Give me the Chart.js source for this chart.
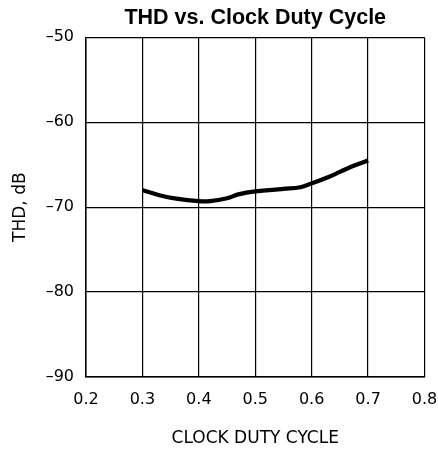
<!DOCTYPE html>
<html>
<head>
<meta charset="utf-8">
<title>THD vs. Clock Duty Cycle</title>
<script src="https://cdn.jsdelivr.net/npm/chart.js@4/dist/chart.umd.min.js"></script>
<style>
  html, body { margin: 0; padding: 0; background: #fff; }
  #wrap { width: 438px; height: 449px; }
</style>
</head>
<body>
<div id="wrap"><canvas id="thd-chart" width="438" height="449"></canvas></div>
<script>
// values
const dutyCycle = [0.30, 0.33, 0.36, 0.40, 0.42, 0.45, 0.47, 0.50, 0.55, 0.58, 0.60, 0.63, 0.65, 0.67, 0.70]
const thd = [-68.0, -68.6, -69.0, -69.3, -69.3, -68.95, -68.5, -68.15, -67.85, -67.65, -67.2, -66.45, -65.85, -65.25, -64.5]

const xTicks = [0.2, 0.3, 0.4, 0.5, 0.6, 0.7, 0.8]
const yTicks = [-90, -80, -70, -60, -50]

const tickFont = { family: "'DejaVu Sans', sans-serif", size: 16 }
const titleFont = { family: "'DejaVu Sans', sans-serif", size: 17 }

const points = dutyCycle.map((x, i) => ({ x: x, y: thd[i] }))

const chart = new Chart(document.getElementById("thd-chart"), {
  type: "line",
  data: {
    datasets: [{
      label: "THD",
      data: points,
      borderColor: "#000",
      borderWidth: 4.2,
      tension: 0.4,
      pointRadius: 0,
      fill: false
    }]
  },
  options: {
    responsive: false,
    animation: false,
    layout: { padding: { left: 0, right: 13.5, top: 0, bottom: 0 } },
    plugins: {
      legend: { display: false },
      tooltip: { enabled: false },
      title: {
        display: true,
        fullSize: false,
        text: "THD vs. Clock Duty Cycle",
        color: "#000",
        font: { family: "'Liberation Sans', Arial, sans-serif", size: 21.5, weight: "bold", lineHeight: 1.2 },
        padding: { top: 5.5, bottom: 6 }
      }
    },
    scales: {
      x: {
        type: "linear",
        min: xTicks[0],
        max: xTicks[xTicks.length - 1],
        afterBuildTicks: (scale) => { scale.ticks = xTicks.map(v => ({ value: v })) },
        afterFit: (scale) => {
          scale.height = 72
          scale.paddingLeft = 0
          scale.paddingRight = 0
        },
        grid: { color: "#000", lineWidth: 1.2, drawTicks: false },
        border: { color: "#000", width: 1.5 },
        ticks: {
          color: "#000",
          font: tickFont,
          padding: 13,
          maxRotation: 0,
          callback: (v) => Number(v).toFixed(1)
        },
        title: {
          display: true,
          text: "CLOCK DUTY CYCLE",
          color: "#000",
          font: titleFont,
          padding: { top: 3, bottom: 0 }
        }
      },
      y: {
        min: yTicks[0],
        max: yTicks[yTicks.length - 1],
        afterBuildTicks: (scale) => { scale.ticks = yTicks.map(v => ({ value: v })) },
        afterFit: (scale) => {
          scale.width = 86
          scale.paddingTop = 0
          scale.paddingBottom = 0
        },
        grid: { color: "#000", lineWidth: 1.2, drawTicks: false },
        border: { color: "#000", width: 1.5 },
        ticks: {
          color: "#000",
          font: tickFont,
          padding: 12,
          callback: (v) => String(v).replace("-", "\u2013")
        },
        title: {
          display: true,
          text: "THD, dB",
          color: "#000",
          font: titleFont,
          padding: { top: 10, bottom: 0 }
        }
      }
    }
  }
})
</script>
</body>
</html>
